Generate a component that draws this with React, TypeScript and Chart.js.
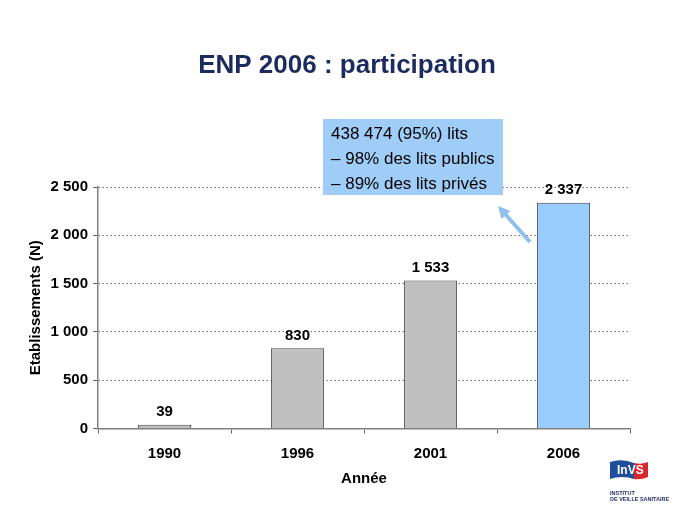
import React, { useEffect, useRef } from "react";
import { Chart, registerables } from "chart.js";

Chart.register(...registerables);

const categories = ["1990", "1996", "2001", "2006"];
const values = [39, 830, 1533, 2337];
const barColors = ["#c0c0c0", "#c0c0c0", "#c0c0c0", "#99ccff"];
const yTicks = [0, 500, 1000, 1500, 2000, 2500];
const titleText = "ENP 2006 : participation";
const noteLines = ["438 474 (95%) lits", "\u2013 98% des lits publics", "\u2013 89% des lits privés"];
const yTitle = "Etablissements (N)";
const xTitle = "Année";

const fmt = (v: number) => String(Math.round(v)).replace(/\B(?=(\d{3})+(?!\d))/g, " ");

const FONT = "'Liberation Sans', Arial, sans-serif";

const decor = {
  id: "decor",
  afterDatasetsDraw(chart: any) {
    const ctx = chart.ctx;
    const meta = chart.getDatasetMeta(0);
    ctx.save();
    ctx.fillStyle = "#000";
    ctx.font = `bold 15px ${FONT}`;
    ctx.textAlign = "center";
    ctx.textBaseline = "bottom";
    meta.data.forEach((el: any, i: number) => {
      ctx.fillText(fmt(values[i]), el.x, el.y - 5);
    });
    ctx.restore();
  },
  afterDraw(chart: any) {
    const ctx = chart.ctx;
    ctx.save();
    // title
    ctx.fillStyle = "#1c2b5e";
    ctx.font = `bold 26px ${FONT}`;
    ctx.textAlign = "center";
    ctx.textBaseline = "middle";
    ctx.fillText(titleText, 347, 66);

    // annotation box
    ctx.fillStyle = "#9fcdf7";
    ctx.fillRect(323, 119, 180, 76);
    ctx.fillStyle = "#000";
    ctx.font = `17px ${FONT}`;
    ctx.textAlign = "left";
    ctx.textBaseline = "middle";
    noteLines.forEach((t, i) => ctx.fillText(t, 331, 134 + i * 25));

    // arrow
    const x0 = 530, y0 = 242, x1 = 498, y1 = 206;
    const ang = Math.atan2(y1 - y0, x1 - x0);
    ctx.strokeStyle = "#8dc0ea";
    ctx.fillStyle = "#8dc0ea";
    ctx.lineWidth = 4;
    ctx.beginPath();
    ctx.moveTo(x0, y0);
    ctx.lineTo(x1 - 6 * Math.cos(ang), y1 - 6 * Math.sin(ang));
    ctx.stroke();
    ctx.beginPath();
    ctx.moveTo(x1, y1);
    ctx.lineTo(x1 - 12 * Math.cos(ang) + 6 * Math.sin(ang), y1 - 12 * Math.sin(ang) - 6 * Math.cos(ang));
    ctx.lineTo(x1 - 12 * Math.cos(ang) - 6 * Math.sin(ang), y1 - 12 * Math.sin(ang) + 6 * Math.cos(ang));
    ctx.closePath();
    ctx.fill();

    // logo
    ctx.fillStyle = "#1f4e9c";
    ctx.beginPath();
    ctx.moveTo(610, 462);
    ctx.quadraticCurveTo(622, 458, 634, 463);
    ctx.lineTo(634, 479);
    ctx.quadraticCurveTo(622, 475, 610, 479);
    ctx.closePath();
    ctx.fill();
    ctx.fillStyle = "#d9262c";
    ctx.beginPath();
    ctx.moveTo(634, 463);
    ctx.quadraticCurveTo(641, 465, 648, 462);
    ctx.lineTo(648, 477);
    ctx.quadraticCurveTo(641, 480, 634, 479);
    ctx.closePath();
    ctx.fill();
    ctx.fillStyle = "#fff";
    ctx.font = `bold 12px ${FONT}`;
    ctx.textAlign = "left";
    ctx.textBaseline = "middle";
    ctx.fillText("InVS", 617, 471);
    ctx.fillStyle = "#1c2b5e";
    ctx.font = `bold 5.5px ${FONT}`;
    ctx.fillText("INSTITUT", 610, 493);
    ctx.fillText("DE VEILLE SANITAIRE", 610, 499);
    ctx.restore();
  },
};

export default function App() {
  const ref = useRef<HTMLCanvasElement | null>(null);
  useEffect(() => {
    if (!ref.current) return;
    const chart = new Chart(ref.current, {
      type: "bar",
      data: {
        labels: categories,
        datasets: [
          {
            data: values,
            backgroundColor: barColors,
            borderColor: "#4a4a4a",
            borderWidth: 1,
            categoryPercentage: 1,
            barPercentage: 0.4,
          },
        ],
      },
      options: {
        animation: false,
        responsive: false,
        devicePixelRatio: 1,
        layout: { padding: { top: 187, right: 59, bottom: 28, left: 0 } },
        plugins: { legend: { display: false }, title: { display: false }, tooltip: { enabled: false } },
        scales: {
          x: {
            afterFit: (s: any) => { s.height = 60.5; },
            grid: { drawOnChartArea: false, drawTicks: true, tickLength: 5, tickColor: "#666", offset: true },
            border: { display: true, color: "#808080", width: 1.5 },
            ticks: { color: "#000", font: { family: FONT, size: 15, weight: "bold" }, padding: 11 },
            title: { display: true, text: xTitle, color: "#000", font: { family: FONT, size: 15, weight: "bold" }, padding: { top: 0, bottom: 1 } },
          },
          y: {
            min: 0,
            max: 2500,
            afterFit: (s: any) => { s.width = 98; },
            afterBuildTicks: (s: any) => { s.ticks = yTicks.map((v) => ({ value: v })); },
            grid: { color: "#6e6e6e", lineWidth: 1, tickLength: 5, tickColor: "#666", tickBorderDash: [1, 0] },
            border: { display: true, color: "#808080", width: 1.5, dash: [1.5, 2.5] },
            ticks: { color: "#000", font: { family: FONT, size: 15, weight: "bold" }, padding: 5, callback: (v: any) => fmt(Number(v)) },
            title: { display: true, text: yTitle, color: "#000", font: { family: FONT, size: 15, weight: "bold" }, padding: { top: 27, bottom: 0 } },
          },
        },
      },
      plugins: [decor],
    });
    return () => chart.destroy();
  }, []);
  return (
    <div style={{ position: "fixed", left: 0, top: 0, width: 689, height: 517, background: "#fff" }}>
      <canvas ref={ref} width={689} height={517} style={{ display: "block" }} />
    </div>
  );
}
